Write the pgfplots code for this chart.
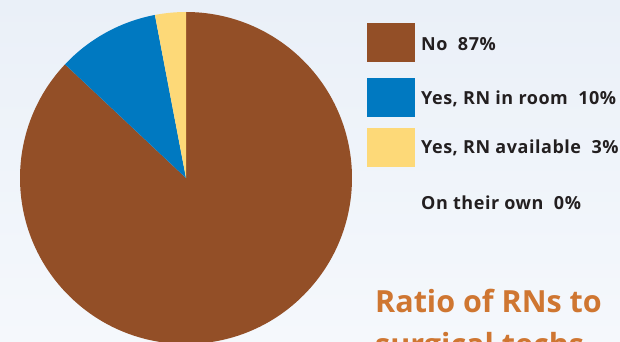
\documentclass[border=0pt]{standalone}
\usepackage{pgfplots}
\pgfplotsset{compat=1.18}
\usepackage{pgfplotstable}
\usepackage{fontspec}
\setmainfont{Open Sans}
\newfontfamily\legfont[LetterSpace=3]{Open Sans}
\definecolor{cNo}{HTML}{934F27}
\definecolor{cRoom}{HTML}{0079C1}
\definecolor{cAvail}{HTML}{FDD978}
\definecolor{txt}{HTML}{231F20}
\definecolor{ttl}{HTML}{CF7631}
\definecolor{bgtop}{HTML}{EAF0F8}
\definecolor{bgbot}{HTML}{F5F8FC}
\pgfplotstableread{
label value
No 87
RNroom 10
RNavail 3
Own 0
}\piedata
\begin{document}
\begin{tikzpicture}[x=1pt,y=1pt]
\useasboundingbox (0,0) rectangle (620,341);
\shade[top color=bgtop, bottom color=bgbot] (0,0) rectangle (620,341);
\clip (0,0) rectangle (620,341);
\pgfplotstablegetelem{0}{value}\of\piedata \pgfmathsetmacro\vA{\pgfplotsretval}
\pgfplotstablegetelem{1}{value}\of\piedata \pgfmathsetmacro\vB{\pgfplotsretval}
\pgfplotstablegetelem{2}{value}\of\piedata \pgfmathsetmacro\vC{\pgfplotsretval}
\pgfmathsetmacro\aA{90}
\pgfmathsetmacro\aB{\aA-3.6*\vA}
\pgfmathsetmacro\aC{\aB-3.6*\vB}
\pgfmathsetmacro\aD{\aC-3.6*\vC}
\begin{axis}[hide axis, x=166pt, y=166pt, xmin=-1, xmax=1, ymin=-1, ymax=1,
  anchor=origin, at={(186pt,163pt)}, clip=false]
\fill[cNo] (axis cs:0,0) -- (axis cs:{cos(\aB)},{sin(\aB)}) arc[start angle=\aB, end angle=\aA, radius=166pt] -- cycle;
\fill[cRoom] (axis cs:0,0) -- (axis cs:{cos(\aC)},{sin(\aC)}) arc[start angle=\aC, end angle=\aB, radius=166pt] -- cycle;
\fill[cAvail] (axis cs:0,0) -- (axis cs:{cos(\aD)},{sin(\aD)}) arc[start angle=\aD, end angle=\aC, radius=166pt] -- cycle;
\end{axis}
\fill[cNo] (367,279) rectangle (415,318);
\fill[cRoom] (367,224.3) rectangle (415,263);
\fill[cAvail] (367,174.3) rectangle (415,213);
\begin{scope}[every node/.style={anchor=west, inner sep=0pt, text=txt, font=\legfont\fontsize{18}{20}\selectfont\bfseries}]
\node at (421,297) {No\ \ 87\%};
\node at (421,242) {Yes, RN in room\ \ 10\%};
\node at (421,193.3) {Yes, RN available\ \ 3\%};
\node at (421,138.3) {On their own\ \ 0\%};
\end{scope}
\node[anchor=base west, inner sep=0pt, text=ttl, font=\fontsize{30.5}{34}\selectfont\bfseries] at (375,28.3) {Ratio of RNs to};
\node[anchor=base west, inner sep=0pt, text=ttl, font=\fontsize{30.5}{34}\selectfont\bfseries] at (375,-14) {surgical techs};
\end{tikzpicture}
\end{document}
